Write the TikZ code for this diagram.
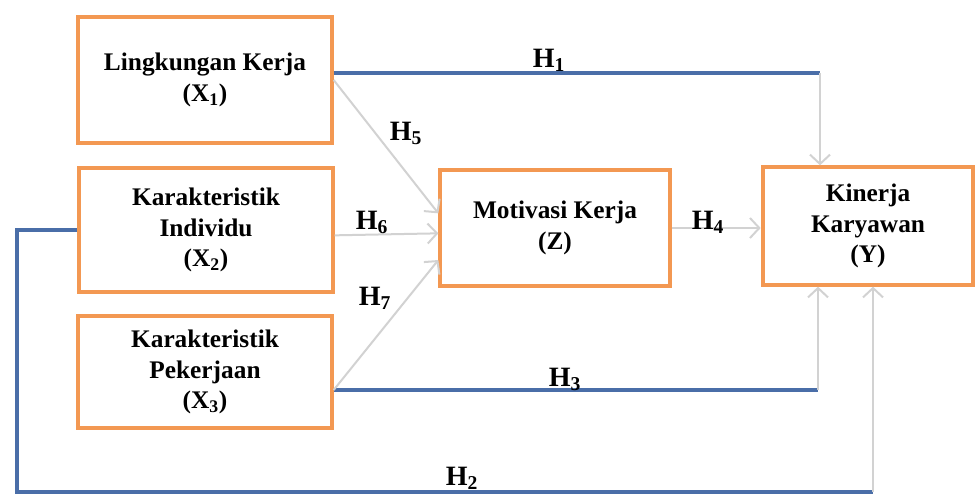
\documentclass[tikz,border=0pt]{standalone}
\usepackage{fontspec}
\setmainfont{Liberation Serif}
\usepackage{tikz}
\usetikzlibrary{arrows.meta}
\definecolor{boxorange}{RGB}{243,152,82}
\definecolor{pathblue}{RGB}{74,110,168}

\begin{document}
\begin{tikzpicture}[x=0.75pt, y=-0.75pt,
		var/.style={draw=boxorange, line width=3pt, fill=white, align=center, inner sep=2pt,
			font=\fontsize{19}{23}\selectfont\bfseries},
		blueline/.style={draw=pathblue, line width=3pt},
		hollow/.style={draw=gray!35, line width=1.5pt,
			-{Straight Barb[length=7pt, width=15pt]}},
		hlabel/.style={font=\fontsize{21}{21}\selectfont\bfseries}]
		\useasboundingbox (0,0) rectangle (980,497);
		% variables
		\node[var, minimum width=190pt, minimum height=94pt] (x1) at (205,80) {Lingkungan Kerja\\(X\textsubscript{1})};
		\node[var, minimum width=190pt, minimum height=93pt] (x2) at (206,230) {Karakteristik\\Individu\\(X\textsubscript{2})};
		\node[var, minimum width=190pt, minimum height=84pt] (x3) at (205,372) {Karakteristik\\Pekerjaan\\(X\textsubscript{3})};
		\node[var, minimum width=172pt, minimum height=87pt] (z) at (555,228) {Motivasi Kerja\\(Z)};
		\node[var, minimum width=158pt, minimum height=88pt] (y) at (868,226) {Kinerja\\Karyawan\\(Y)};
		% bends
		\coordinate (b1) at (820,73);
		\coordinate (b3) at (818,390);
		\coordinate (b2a) at (17,230);
		\coordinate (b2b) at (873,492);
		% direct paths to Y
		\draw[blueline] (x1.east |- b1) -- (b1);
		\draw[blueline] (x3.east |- b3) -- (b3);
		\draw[blueline] (x2.west) -- (b2a) |- (b2b);
		\draw[hollow] (b1) -- (b1 |- y.north);
		\draw[hollow] (b3) -- (b3 |- y.south);
		\draw[hollow] (b2b) -- (b2b |- y.south);
		\draw[hollow] (z.east) -- (z.east -| y.west);
		% paths to Z
		\draw[hollow] (x1.east) -- ([yshift=11pt]z.west);
		\draw[hollow] ([yshift=-4pt]x2.east) -- ([yshift=-4pt]z.west);
		\draw[hollow] (x3.east |- b3) -- ([yshift=-24pt]z.west);
		% labels
		\node[hlabel] (h1) at (549,60) {H\textsubscript{1}};
		\node[hlabel] (h2) at (462,478) {H\textsubscript{2}};
		\node[hlabel] (h3) at (565,379) {H\textsubscript{3}};
		\node[hlabel] (h4) at (708,222) {H\textsubscript{4}};
		\node[hlabel] (h5) at (406,133) {H\textsubscript{5}};
		\node[hlabel] (h6) at (372,222) {H\textsubscript{6}};
		\node[hlabel] (h7) at (375,298) {H\textsubscript{7}};
\end{tikzpicture}
\end{document}
